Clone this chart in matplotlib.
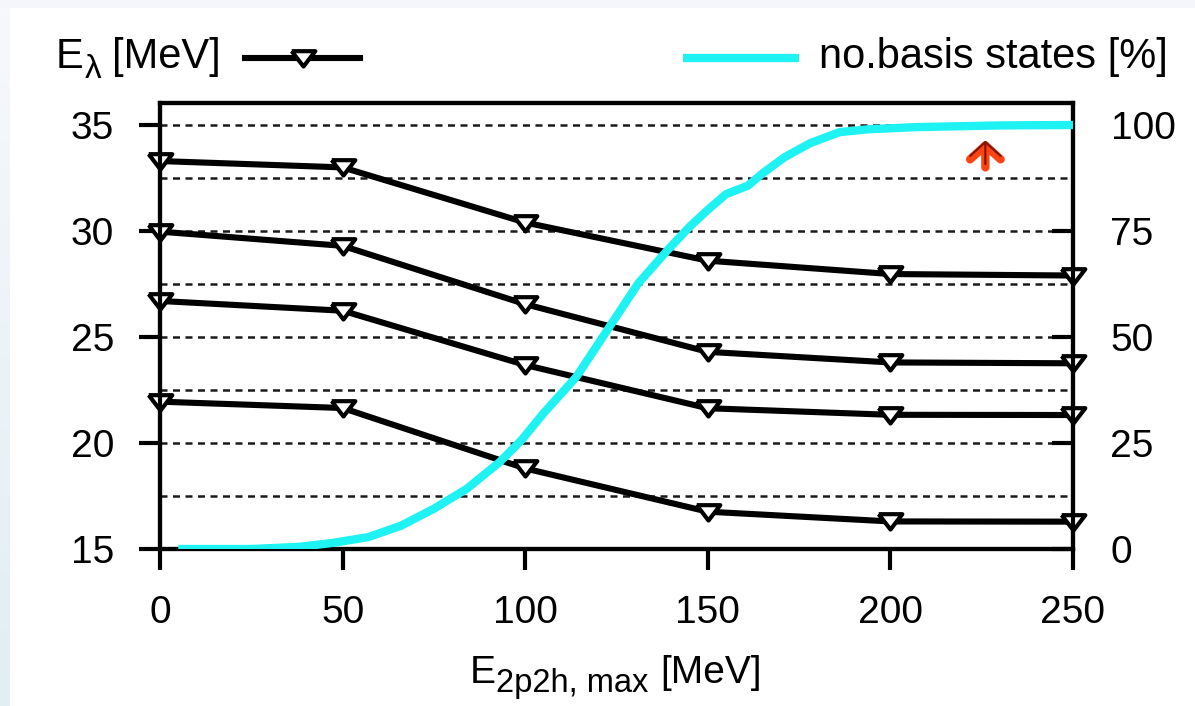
import numpy as np
import matplotlib
matplotlib.use('Agg')
import matplotlib.pyplot as plt
from matplotlib.lines import Line2D
from matplotlib.patches import Rectangle

plt.rcParams['font.family'] = ['Liberation Sans', 'DejaVu Sans']

# --- data ---
e_max = [0, 50, 100, 150, 200, 250]
e_lambda_1 = [33.3, 33.0, 30.4, 28.6, 27.97, 27.9]
e_lambda_2 = [29.97, 29.3, 26.55, 24.3, 23.8, 23.76]
e_lambda_3 = [26.7, 26.24, 23.68, 21.64, 21.33, 21.32]
e_lambda_4 = [21.95, 21.65, 18.8, 16.76, 16.3, 16.29]

basis_x = [5, 25, 38, 47, 57, 66, 75, 84, 93, 99, 105, 114, 123, 131, 139,
           145, 150, 155, 161, 165, 171, 178, 186, 194, 207, 230, 250]
basis_pct = [0, 0, 0.5, 1.4, 2.8, 5.5, 9.5, 14.2, 20.5, 25.7, 32, 40.6, 52.3,
             62.7, 70.5, 76, 80, 83.7, 85.7, 88.6, 92.4, 95.7, 98.3, 99, 99.5,
             99.9, 100]

x_ticks = [0, 50, 100, 150, 200, 250]
y_ticks = [15, 20, 25, 30, 35]
y2_ticks = [0, 25, 50, 75, 100]

# small red arrow in the upper right corner
arrow_x = 226
arrow_tip, arrow_tail = 34.3, 33.0

CYAN = '#1ef2f2'
LW = 4.4
W, H = 1195, 706


def px(x, y):
    # figure pixel position (from top-left) -> figure fraction
    return x / W, 1 - y / H


fig = plt.figure(figsize=(W / 100, H / 100), dpi=100)
fig.patch.set_facecolor('#f5f6fb')
fig.add_artist(Rectangle((10 / W, 0), 1, 1 - 8 / H, transform=fig.transFigure,
                         facecolor='white', edgecolor='none', zorder=-5))
# pale blue strip at the left edge
strip = fig.add_axes([0, 0, 10 / W, 1 - 8 / H])
cm = matplotlib.colors.LinearSegmentedColormap.from_list('s', ['#f7f8fc', '#e1eef4'])
strip.imshow(np.linspace(0, 1, 100).reshape(-1, 1), cmap=cm, aspect='auto',
             extent=[0, 1, 0, 1])
strip.axis('off')

ax = fig.add_axes([160 / W, 1 - 549 / H, 913 / W, 446 / H])
ax2 = ax.twinx()

tri = [(-1, 0.62), (1, 0.62), (0, -0.68), (-1, 0.62)]
mark = dict(marker=tri, ms=17, mfc='white', mec='black', mew=3.0)
for s in [e_lambda_1, e_lambda_2, e_lambda_3, e_lambda_4]:
    ax.plot(e_max, s, color='black', lw=LW, clip_on=False, zorder=3, **mark)

ax2.plot(basis_x, basis_pct, color=CYAN, lw=6, solid_capstyle='butt', zorder=4)

ax.set_xlim(0, 250)
ax.set_ylim(15, 35 + 22 / 424 * 20)
ax2.set_ylim(0, 100 + 22 / 424 * 100)

ax.set_xticks(x_ticks)
ax.set_yticks(y_ticks)
ax.set_yticks(np.arange(15, 36, 2.5), minor=True)
ax.tick_params(axis='y', which='minor', length=0)
ax2.set_yticks(y2_ticks)

ax.grid(True, axis='y', which='both', color='#1a1a1a', lw=1.8, ls=(0, (2.8, 2.2)))
ax.set_axisbelow(True)

ax.tick_params(axis='both', which='major', direction='out', length=15, width=3,
               labelsize=28, pad=18, top=False, right=False)
ax2.tick_params(axis='y', direction='in', length=15, width=3, labelsize=28, pad=27)
for a in (ax, ax2):
    for sp in a.spines.values():
        sp.set_linewidth(3)

# x axis label with a large subscript
fig.text(*px(470, 683), 'E', fontsize=28, va='baseline', ha='left')
fig.text(*px(496, 692), '2p2h, max', fontsize=23.5, va='baseline', ha='left')
fig.text(*px(660, 683), '[MeV]', fontsize=28, va='baseline', ha='left')

# legend keys above the frame
fig.text(*px(56, 68), 'E', fontsize=30, va='baseline', ha='left')
fig.text(*px(85, 78), 'λ', fontsize=24, va='baseline', ha='left')
fig.text(*px(112, 68), '[MeV]', fontsize=30, va='baseline', ha='left')
fig.add_artist(Line2D([245 / W, 360 / W], [1 - 58 / H] * 2, transform=fig.transFigure,
                      color='black', lw=LW))
fig.add_artist(Line2D([302.5 / W], [1 - 58 / H], transform=fig.transFigure,
                      ls='none', **mark))
fig.add_artist(Line2D([683 / W, 799 / W], [1 - 58 / H] * 2, transform=fig.transFigure,
                      color=CYAN, lw=6, solid_capstyle='butt'))
fig.text(*px(1168, 68), 'no.basis states [%]', fontsize=30, va='baseline', ha='right')

arrow_kw = dict(arrowstyle='->, head_length=0.5, head_width=0.55', mutation_scale=20,
                shrinkA=0, shrinkB=0)
ax.annotate('', xy=(arrow_x, arrow_tip), xytext=(arrow_x, arrow_tail),
            arrowprops=dict(color='#ff4412', lw=6, **arrow_kw), zorder=5)
ax.annotate('', xy=(arrow_x, arrow_tip - 0.04), xytext=(arrow_x, arrow_tail + 0.15),
            arrowprops=dict(color='#7a1500', lw=1.5, **arrow_kw), zorder=6)

fig.savefig('out.png', dpi=100)
